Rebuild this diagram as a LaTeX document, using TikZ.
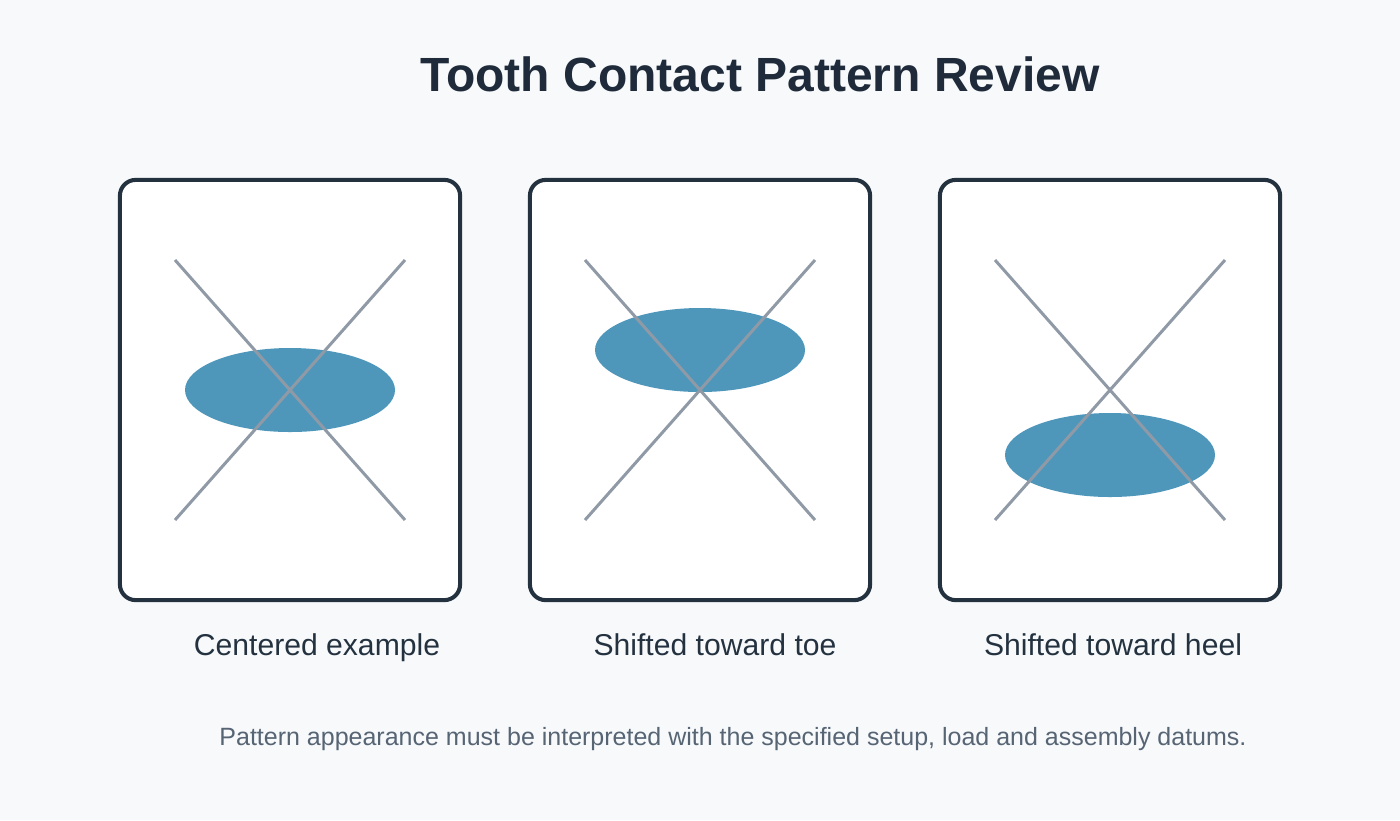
\documentclass[tikz,border=0pt]{standalone}
\usepackage{fontspec}
\setmainfont{Liberation Sans}
\definecolor{bgpage}{HTML}{F7F9FB}
\definecolor{framedark}{HTML}{243240}
\definecolor{titledark}{HTML}{1F2B3A}
\definecolor{crossgray}{HTML}{8F9AA6}
\definecolor{contactblue}{HTML}{4E97BB}
\definecolor{footgray}{HTML}{566474}
\usetikzlibrary{positioning}

\begin{document}
\begin{tikzpicture}[x=0.01cm,y=-0.01cm,
  toothbox/.style={draw=framedark,line width=1.15pt,fill=white,rounded corners=4.5pt,
    minimum width=3.4cm,minimum height=4.2cm,inner sep=0pt},
  crossline/.style={draw=crossgray,line width=0.85pt},
  caption/.style={anchor=base,text=framedark,font=\fontsize{8.57pt}{10pt}\selectfont}]

  % page
  \fill[bgpage] (0,0) rectangle (1400,820);
  \useasboundingbox (0,0) rectangle (1400,820);
  \node[anchor=base,text=titledark,font=\fontsize{13.65pt}{16pt}\selectfont\bfseries]
    (title) at (760,91) {Tooth Contact Pattern Review};

  % three tooth panels: box, contact patch, diagonals, caption
  \foreach \i/\cx/\ey/\lx/\txt in {1/290/390/317/Centered example,
                                   2/700/350/715/Shifted toward toe,
                                   3/1110/455/1113/Shifted toward heel}{
    \node[toothbox] (box\i) at (\cx,390) {};
    \fill[contactblue] (\cx,\ey) ellipse [x radius=105, y radius=42];
    \draw[crossline] ({\cx-115},260) -- ({\cx+115},520);
    \draw[crossline] ({\cx+115},260) -- ({\cx-115},520);
    \node[caption] (cap\i) at (\lx,655.5) {\txt};
  }

  % footnote
  \node[anchor=base,text=footgray,font=\fontsize{7.11pt}{8.5pt}\selectfont]
    (note) at (733,745) {Pattern appearance must be interpreted with the specified setup, load and assembly datums.};

\end{tikzpicture}
\end{document}
